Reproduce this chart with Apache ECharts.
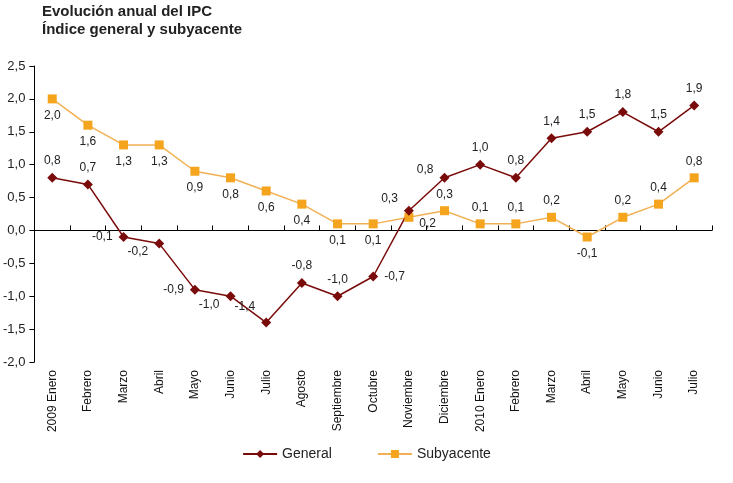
<!DOCTYPE html>
<html>
<head>
<meta charset="utf-8">
<script src="https://cdn.jsdelivr.net/npm/echarts@6/dist/echarts.min.js"></script>
<style>
  html, body { margin: 0; padding: 0; background: #fff; }
  #main { width: 733px; height: 483px; }
</style>
</head>
<body>
<div id="main"></div>
<script>
var meses = ['2009 Enero', 'Febrero', 'Marzo', 'Abril', 'Mayo', 'Junio', 'Julio', 'Agosto',
  'Septiembre', 'Octubre', 'Noviembre', 'Diciembre', '2010 Enero', 'Febrero', 'Marzo',
  'Abril', 'Mayo', 'Junio', 'Julio'];
var general = [0.8, 0.7, -0.1, -0.2, -0.9, -1.0, -1.4, -0.8, -1.0, -0.7, 0.3, 0.8, 1.0, 0.8, 1.4, 1.5, 1.8, 1.5, 1.9];
var subyacente = [2.0, 1.6, 1.3, 1.3, 0.9, 0.8, 0.6, 0.4, 0.1, 0.1, 0.2, 0.3, 0.1, 0.1, 0.2, -0.1, 0.2, 0.4, 0.8];

// donde va cada etiqueta
var posGeneral = ['top', 'top', 'left', 'left', 'left', 'left', 'left', 'top', 'top', 'right',
  'left', 'left', 'top', 'top', 'top', 'top', 'top', 'top', 'top'];
var posSub = ['bottom', 'bottom', 'bottom', 'bottom', 'bottom', 'bottom', 'bottom', 'bottom', 'bottom', 'bottom',
  'right', 'top', 'top', 'top', 'top', 'bottom', 'top', 'top', 'top'];
var offGeneral = {3: [0, 8], 5: [0, 8], 6: [0, -16], 10: [0, -12], 11: [0, -8]};
var offSub = {10: [0, 6]};

function coma(v) { return v.toFixed(1).replace('.', ','); }

function puntos(vals, pos, off) {
  return vals.map(function (v, i) {
    return { value: v, label: { position: pos[i], offset: off[i] || [0, 0] } };
  });
}

var myChart = echarts.init(document.getElementById('main'));
var option = {
  textStyle: { fontFamily: 'Liberation Sans, Arial, sans-serif' },
  title: {
    text: 'Evolución anual del IPC\nÍndice general y subyacente',
    left: 42, top: 3, padding: 0,
    textStyle: { fontSize: 15, fontWeight: 'bold', color: '#222', lineHeight: 18, fontFamily: 'Liberation Sans, Arial, sans-serif' }
  },
  legend: {
    bottom: 17, left: 'center', itemGap: 45, itemWidth: 34, itemHeight: 10,
    textStyle: { fontSize: 14, color: '#222' },
    data: ['General', 'Subyacente']
  },
  grid: { left: 33, right: 21, top: 66, bottom: 121 },
  xAxis: [{
    type: 'category', data: meses,
    axisLine: { onZero: true, lineStyle: { color: '#000', width: 1 } },
    axisTick: { show: true, inside: true, interval: 0, length: 5, lineStyle: { color: '#000', width: 1 } },
    axisLabel: { show: false }
  }, {
    type: 'category', data: meses, position: 'bottom',
    axisLine: { show: false }, axisTick: { show: false },
    axisLabel: { rotate: 90, fontSize: 12, color: '#111', margin: 8, interval: 0 }
  }],
  yAxis: {
    type: 'value', min: -2, max: 2.5, interval: 0.5,
    axisLine: { show: true, lineStyle: { color: '#000' } },
    axisTick: { show: true, length: 5, lineStyle: { color: '#000' } },
    splitLine: { show: false },
    axisLabel: { fontSize: 13, color: '#222', margin: 9, formatter: function (v) { return coma(v); } }
  },
  series: [{
    name: 'Subyacente', type: 'line', xAxisIndex: 0,
    data: puntos(subyacente, posSub, offSub),
    symbol: 'rect', symbolSize: 9,
    itemStyle: { color: '#f5a41e' },
    lineStyle: { color: '#f2b054', width: 1.5 },
    label: { show: true, fontSize: 12, color: '#222', distance: 6, formatter: function (p) { return coma(p.value); } }
  }, {
    name: 'General', type: 'line', xAxisIndex: 0,
    data: puntos(general, posGeneral, offGeneral),
    symbol: 'diamond', symbolSize: 10,
    itemStyle: { color: '#7a0b0b' },
    lineStyle: { color: '#7a0b0b', width: 1.5 },
    label: { show: true, fontSize: 12, color: '#222', distance: 6, formatter: function (p) { return coma(p.value); } }
  }]
};
myChart.setOption(option);
</script>
</body>
</html>
